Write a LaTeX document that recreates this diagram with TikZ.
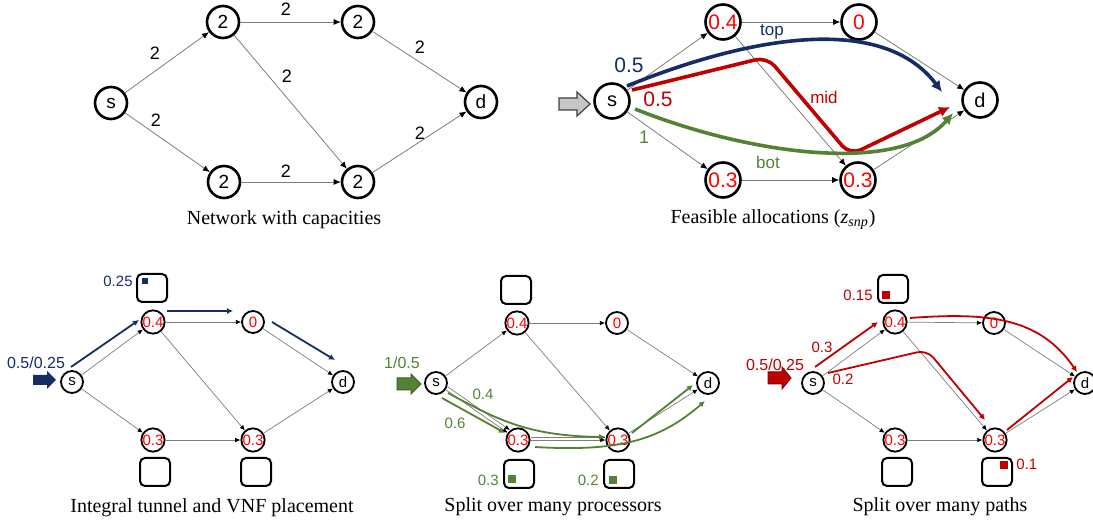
\documentclass[tikz,border=0pt]{standalone}
\usepackage{fontspec}
\setmainfont{Liberation Serif}
\newfontfamily\arialf{Liberation Sans}
\usetikzlibrary{arrows.meta,calc}
\definecolor{navy}{RGB}{22,44,100}
\definecolor{dred}{RGB}{192,0,0}
\definecolor{dgreen}{RGB}{84,130,53}
\definecolor{nred}{RGB}{255,0,0}
\definecolor{edgegray}{RGB}{125,125,125}
\begin{document}
\begin{tikzpicture}[x=0.5pt,y=-0.5pt,
  bignode/.style={circle,draw=black,line width=1.3pt,minimum size=16pt,inner sep=0pt,font=\arialf\fontsize{9.5}{10}\selectfont},
  midnode/.style={circle,draw=black,line width=1.3pt,minimum size=17.5pt,inner sep=0pt,font=\arialf\fontsize{10}{10}\selectfont},
  numnode/.style={midnode,text=nred,font=\arialf\fontsize{10.5}{11}\selectfont},
  smallnode/.style={circle,draw=black,line width=0.9pt,minimum size=11pt,inner sep=0pt,font=\arialf\fontsize{7.5}{8}\selectfont},
  smallnum/.style={smallnode,text=nred},
  thinedge/.style={draw=edgegray,line width=0.4pt,-{Latex[length=3.5pt,width=3pt,color=black]}},
  tinyedge/.style={draw=edgegray,line width=0.35pt,-{Latex[length=2.6pt,width=2.3pt,color=black]}},
  elabel/.style={font=\arialf\fontsize{9}{9}\selectfont,inner sep=0pt},
  caption/.style={font=\fontsize{10}{12}\selectfont,inner sep=0pt},
  vbox/.style={draw=black,line width=1pt,rounded corners=2.5pt,minimum width=15pt,minimum height=14pt,inner sep=0pt},
  bigpath/.style={line width=1.8pt,-{Latex[length=5.5pt,width=5.5pt]}},
  smallpath/.style={line width=0.9pt,-{Latex[length=3pt,width=3pt]}},
  plabel/.style={font=\arialf\fontsize{7.5}{8}\selectfont,inner sep=0pt},
]
\useasboundingbox (0,0) rectangle (1093,523);

% ---------------- Panel 1 ----------------
\node[bignode] (a_s) at (111,103) {s};
\node[bignode] (a_u1) at (223,22) {2};
\node[bignode] (a_u2) at (358,22) {2};
\node[bignode] (a_d) at (481,102) {d};
\node[bignode] (a_l1) at (224,182) {2};
\node[bignode] (a_l2) at (358,182) {2};
\draw[thinedge] (a_s) -- (a_u1);
\draw[thinedge] (a_s) -- (a_l1);
\draw[thinedge] (a_u1) -- (a_u2);
\draw[thinedge] (a_u1) -- (a_l2);
\draw[thinedge] (a_l1) -- (a_l2);
\draw[thinedge] (a_u2) -- (a_d);
\draw[thinedge] (a_l2) -- (a_d);
\node[elabel] (al1) at (155,53) {2};
\node[elabel] (al2) at (156,120) {2};
\node[elabel] (al3) at (286,9) {2};
\node[elabel] (al4) at (287,76) {2};
\node[elabel] (al5) at (286,171) {2};
\node[elabel] (al6) at (420,47) {2};
\node[elabel] (al7) at (420,133) {2};
\node[caption] (cap1) at (284,220) {Network with capacities};

% ---------------- Panel 2 ----------------
\node[midnode] (b_s) at (612,101) {s};
\node[numnode] (b_u1) at (723,22) {0.4};
\node[numnode] (b_u2) at (859,22) {0};
\node[midnode] (b_d) at (980,100) {d};
\node[numnode] (b_l1) at (723,180) {0.3};
\node[numnode] (b_l2) at (858,180) {0.3};
\draw[thinedge] (b_s) -- (b_u1);
\draw[thinedge] (b_s) -- (b_l1);
\draw[thinedge] (b_u1) -- (b_u2);
\draw[thinedge] (b_u1) -- (b_l2);
\draw[thinedge] (b_l1) -- (b_l2);
\draw[thinedge] (b_u2) -- (b_d);
\draw[thinedge] (b_l2) -- (b_d);
\draw[fill=gray!45,draw=black!75,line width=0.6pt] (559,98) -- (577,98) -- (577,92) -- (590,104) -- (577,116) -- (577,110) -- (559,110) -- cycle;
\draw[bigpath,navy] ($(b_s)+(15,-15)$) .. controls (740,40) and (880,10) .. ($(b_d)+(-38,-8)$);
\draw[bigpath,dred,rounded corners=6pt] ($(b_s)+(20,-11)$) -- (767,57) -- (850,155) -- ($(b_d)+(-30,7)$);
\draw[bigpath,dgreen] ($(b_s)+(23,8)$) .. controls (750,155) and (900,175) .. ($(b_d)+(-27,13)$);
\node[font=\arialf\fontsize{10.5}{11}\selectfont,text=navy,inner sep=0pt] (bl1) at (629,65) {0.5};
\node[font=\arialf\fontsize{10.5}{11}\selectfont,text=dred,inner sep=0pt] (bl2) at (658,99) {0.5};
\node[font=\arialf\fontsize{9}{9}\selectfont,text=dgreen,inner sep=0pt] (bl3) at (644,137) {1};
\node[font=\arialf\fontsize{8.5}{9}\selectfont,text=navy,inner sep=0pt] (bl4) at (772,32) {top};
\node[font=\arialf\fontsize{8.5}{9}\selectfont,text=dred,inner sep=0pt] (bl5) at (824,97) {mid};
\node[font=\arialf\fontsize{8.5}{9}\selectfont,text=dgreen,inner sep=0pt] (bl6) at (768,162) {bot};
\node[caption] (cap2) at (773,220) {Feasible allocations (\textit{z}\textsubscript{\textit{snp}})};

% ---------------- Panel 3 ----------------
\node[smallnode] (c_s) at (72,382) {s};
\node[smallnum] (c_u1) at (153,322) {0.4};
\node[smallnum] (c_u2) at (253,322) {0};
\node[smallnode] (c_d) at (343,382) {d};
\node[smallnum] (c_l1) at (153,440) {0.3};
\node[smallnum] (c_l2) at (253,440) {0.3};
\node[vbox] (c_b1) at (152,288) {};
\node[vbox] (c_b2) at (155,472) {};
\node[vbox] (c_b3) at (256,472) {};
\draw[tinyedge] (c_s) -- (c_u1);
\draw[tinyedge] (c_s) -- (c_l1);
\draw[tinyedge] (c_u1) -- (c_u2);
\draw[tinyedge] (c_u1) -- (c_l2);
\draw[tinyedge] (c_l1) -- (c_l2);
\draw[tinyedge] (c_u2) -- (c_d);
\draw[tinyedge] (c_l2) -- (c_d);
\fill[navy] (33,375) -- (47,375) -- (47,371) -- (56,380) -- (47,389) -- (47,385) -- (33,385) -- cycle;
\draw[smallpath,navy] ($(c_s)+(-1,-15)$) -- ($(c_u1)+(-14,-2)$);
\draw[smallpath,navy] ($(c_u1)+(14,-11)$) -- ($(c_u2)+(-20,-11)$);
\draw[smallpath,navy] ($(c_u2)+(19,0)$) -- ($(c_d)+(-8,-22)$);
\node[fill=navy,minimum size=3.3pt,inner sep=0pt] (c_q1) at (145,281) {};
\node[plabel,text=navy,anchor=east] (cl1) at (133,281) {0.25};
\node[font=\arialf\fontsize{8}{8}\selectfont,text=navy,inner sep=0pt] (cl2) at (36,363) {0.5/0.25};
\node[caption] (cap3) at (212,508) {Integral tunnel and VNF placement};

% ---------------- Panel 4 ----------------
\node[smallnode] (d_s) at (436,383) {s};
\node[smallnum] (d_u1) at (517,323) {0.4};
\node[smallnum] (d_u2) at (617,323) {0};
\node[smallnode] (d_d) at (708,383) {d};
\node[smallnum] (d_l1) at (518,440) {0.3};
\node[smallnum] (d_l2) at (618,440) {0.3};
\node[vbox] (d_b1) at (516,290) {};
\node[vbox] (d_b2) at (519,474) {};
\node[vbox] (d_b3) at (619,474) {};
\draw[tinyedge] (d_s) -- (d_u1);
\draw[tinyedge] (d_s) -- (d_l1);
\draw[tinyedge,transform canvas={xshift=1.1pt,yshift=1.4pt}] (d_s) -- (d_l1);
\draw[tinyedge] (d_u1) -- (d_u2);
\draw[tinyedge] (d_u1) -- (d_l2);
\draw[tinyedge] (d_l1) -- (d_l2);
\draw[tinyedge,transform canvas={yshift=1.3pt}] (d_l1) -- (d_l2);
\draw[tinyedge] (d_u2) -- (d_d);
\draw[tinyedge] (d_l2) -- (d_d);
\draw[fill=dgreen,draw=dgreen!70!black,line width=0.5pt] (397,378) -- (411,378) -- (411,374) -- (421,384) -- (411,394) -- (411,390) -- (397,390) -- cycle;
\draw[smallpath,dgreen] ($(d_s)+(6,15)$) -- ($(d_l1)+(-13,-7)$);
\draw[smallpath,dgreen] ($(d_s)+(12,10)$) .. controls (495,418) and (525,436) .. ($(d_l2)+(-13,-3)$);
\draw[smallpath,dgreen] ($(d_l1)+(17,7)$) .. controls (620,452) and (660,440) .. ($(d_d)+(-3,18)$);
\draw[smallpath,dgreen] ($(d_l2)+(14,-7)$) -- ($(d_d)+(-15,2)$);
\node[fill=dgreen,minimum size=4pt,inner sep=0pt] (d_q1) at (512,479) {};
\node[fill=dgreen,minimum size=4pt,inner sep=0pt] (d_q2) at (613,480) {};
\node[plabel,text=dgreen,anchor=east] (dl1) at (499,480) {0.3};
\node[plabel,text=dgreen,anchor=east] (dl2) at (599,480) {0.2};
\node[font=\arialf\fontsize{8}{8}\selectfont,text=dgreen,inner sep=0pt] (dl3) at (402,363) {1/0.5};
\node[plabel,text=dgreen] (dl4) at (483,394) {0.4};
\node[plabel,text=dgreen] (dl5) at (455,423) {0.6};
\node[caption] (cap4) at (553,507) {Split over many processors};

% ---------------- Panel 5 ----------------
\node[smallnode] (e_s) at (813,383) {s};
\node[smallnum] (e_u1) at (895,322) {0.4};
\node[smallnum] (e_u2) at (994,323) {0};
\node[smallnode] (e_d) at (1085,383) {d};
\node[smallnum] (e_l1) at (895,440) {0.3};
\node[smallnum] (e_l2) at (995,440) {0.3};
\node[vbox] (e_b1) at (893,289) {};
\node[vbox] (e_b2) at (897,472) {};
\node[vbox] (e_b3) at (997,472) {};
\draw[tinyedge] (e_s) -- (e_u1);
\draw[tinyedge] (e_s) -- (e_l1);
\draw[tinyedge] (e_u1) -- (e_u2);
\draw[tinyedge] (e_u1) -- (e_l2);
\draw[tinyedge] (e_l1) -- (e_l2);
\draw[tinyedge] (e_u2) -- (e_d);
\draw[tinyedge] (e_l2) -- (e_d);
\draw[fill=dred,draw=dred!70!black,line width=0.5pt] (768,372) -- (782,372) -- (782,367) -- (791,378) -- (782,389) -- (782,384) -- (768,384) -- cycle;
\draw[smallpath,dred] ($(e_s)+(2,-16)$) -- ($(e_u1)+(-17,0)$);
\draw[smallpath,dred] ($(e_u1)+(15,-4)$) .. controls (990,312) and (1040,318) .. ($(e_d)+(-8,-11)$);
\draw[smallpath,dred,rounded corners=5pt] ($(e_s)+(15,-10)$) -- (927,350) -- ($(e_l2)+(-10,-20)$);
\draw[smallpath,dred] ($(e_l2)+(12,-10)$) -- ($(e_d)+(-12,-6)$);
\node[fill=dred,minimum size=4pt,inner sep=0pt] (e_q1) at (886,295) {};
\node[fill=dred,minimum size=4pt,inner sep=0pt] (e_q2) at (1004,465) {};
\node[plabel,text=dred,anchor=east] (el1) at (873,295) {0.15};
\node[plabel,text=dred,anchor=west] (el2) at (1016,464) {0.1};
\node[font=\arialf\fontsize{8}{8}\selectfont,text=dred,inner sep=0pt] (el3) at (775,365) {0.5/0.25};
\node[plabel,text=dred] (el4) at (822,347) {0.3};
\node[plabel,text=dred] (el5) at (843,379) {0.2};
\node[caption] (cap5) at (940,507) {Split over many paths};
\end{tikzpicture}
\end{document}
